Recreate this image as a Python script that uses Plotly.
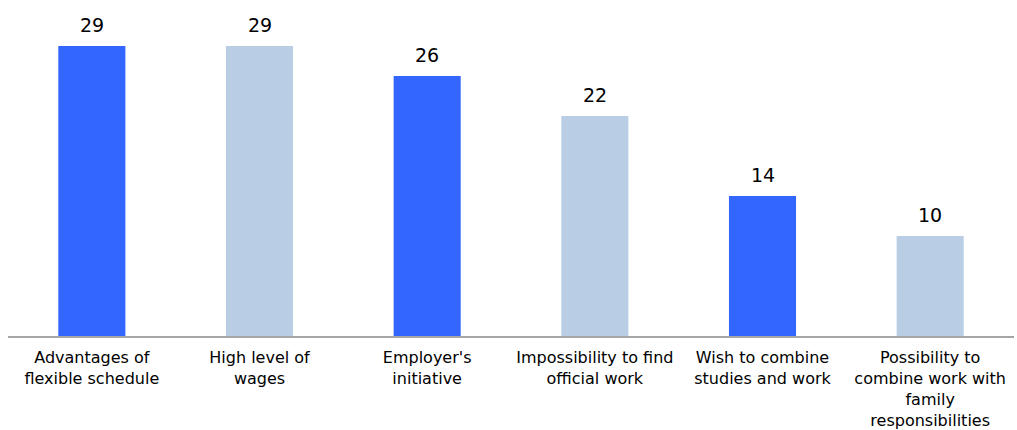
import plotly.graph_objects as go

# Reasons for informal employment, % of respondents
categories = [
    "Advantages of<br>flexible schedule",
    "High level of<br>wages",
    "Employer's<br>initiative",
    "Impossibility to find<br>official work",
    "Wish to combine<br>studies and work",
    "Possibility to<br>combine work with<br>family<br>responsibilities",
]
values = [29, 29, 26, 22, 14, 10]
bar_colors = ["#3366FF", "#B9CDE5", "#3366FF", "#B9CDE5", "#3366FF", "#B9CDE5"]

fig = go.Figure(
    go.Bar(
        x=categories,
        y=values,
        marker=dict(color=bar_colors, line=dict(width=0)),
        hoverinfo="skip",
    )
)

# value labels above each bar
for cat, val in zip(categories, values):
    fig.add_annotation(
        x=cat, y=val, text=str(val), showarrow=False,
        yanchor="middle", yshift=21,
        font=dict(family="DejaVu Sans", size=19, color="#000000"),
    )

fig.update_layout(
    width=1017, height=430,
    margin=dict(l=8, r=3, t=10, b=94),
    paper_bgcolor="white", plot_bgcolor="white",
    bargap=0.6,
    showlegend=False,
    xaxis=dict(
        showline=True, linecolor="#A6A6A6", linewidth=2,
        showgrid=False, ticks="", ticklabelstandoff=6,
        automargin=False,
        tickfont=dict(family="DejaVu Sans", size=16, color="#000000"),
        fixedrange=True,
    ),
    yaxis=dict(
        range=[0, 32.6], visible=False, showgrid=False, zeroline=False,
        automargin=False, fixedrange=True,
    ),
)

fig.write_html("out.html")
